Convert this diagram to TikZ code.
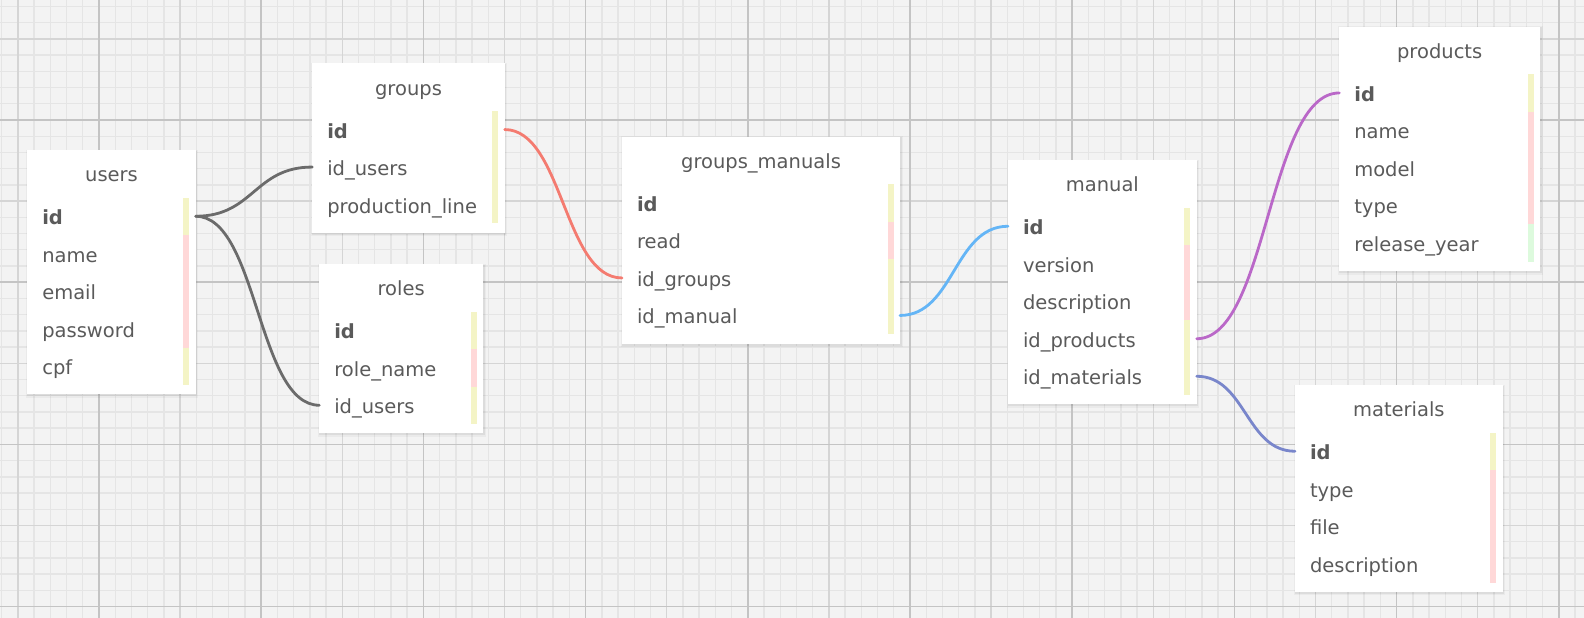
\documentclass[tikz,border=0pt]{standalone}
\usepackage{fontspec}
\setmainfont{DejaVu Sans}
\definecolor{bgc}{HTML}{F3F3F3}
\definecolor{gminc}{HTML}{E5E5E5}
\definecolor{gmedc}{HTML}{D5D5D5}
\definecolor{gmajc}{HTML}{C4C4C4}
\definecolor{txtc}{HTML}{5A5A5A}
\definecolor{barY}{HTML}{F4F4C6}
\definecolor{barP}{HTML}{FFD8D8}
\definecolor{barG}{HTML}{DDFADD}
\definecolor{cGray}{HTML}{6B6B6B}
\definecolor{cRed}{HTML}{F47B70}
\definecolor{cBlue}{HTML}{64B5F6}
\definecolor{cPurple}{HTML}{BA68C8}
\definecolor{cIndigo}{HTML}{7986CB}
\tikzset{
  gminor/.style={draw=gminc, line width=1.4pt},
  gmedium/.style={draw=gmedc, line width=1.5pt},
  gmajor/.style={draw=gmajc, line width=1.6pt},
  tablebox/.style={fill=white, draw=none, inner sep=0pt, outer sep=0pt, rectangle},
  titletext/.style={font=\fontsize{19.5}{23}\selectfont, text=txtc, inner sep=0pt},
  rowtext/.style={font=\fontsize{19.5}{23}\selectfont, text=txtc, inner xsep=15pt, inner ysep=0pt,
    outer sep=0pt, text height=20pt, text depth=3pt, minimum height=37.5pt, align=left},
  conn/.style={line width=2.8pt, line cap=round}
}
\newcommand{\ertable}[6]{%
  \pgfmathsetmacro{\erW}{#4-#2}%
  \pgfmathsetmacro{\erH}{56.8+37.5*#5}%
  \fill[black, opacity=0.035] (#2-1.5,#3-0.5) rectangle (#4+2.5,#3+\erH+3.5);
  \fill[black, opacity=0.06] (#2-0.5,#3+0.5) rectangle (#4+1.5,#3+\erH+2);
  \node[tablebox, minimum width=\erW pt, minimum height=\erH pt, anchor=north west] (#1) at (#2,#3) {};
  \node[titletext, anchor=base] (#1-title) at ({(#2+#4)/2},#3+31.7) {#6};
}
\newcommand{\errow}[8]{%
  \pgfmathsetmacro{\erYc}{#5+47.5+37.5*#6+18.75}%
  \pgfmathsetmacro{\erTW}{#4-#3-30}%
  \fill[#8] (#4-12.4,\erYc-18.75) rectangle (#4-6.4,\erYc+18.75);
  \node[rowtext, text width=\erTW pt, anchor=west] (#1-#2) at (#3,\erYc) {#7};
}
\begin{document}
\begin{tikzpicture}[x=1pt,y=-1pt]
\useasboundingbox (0,0) rectangle (1584,618);
\fill[bgc] (0,0) rectangle (1584,618);
\begin{scope}
\clip (0,0) rectangle (1584,618);
\foreach \i in {0,...,97} \draw[gminor] ({1.68+16.22*\i},0) -- ++(0,618);
\foreach \i in {0,...,38} \draw[gminor] (0,{6.46+16.22*\i}) -- ++(1584,0);
\foreach \i in {0,...,9} \draw[gmedium] ({17.9+162.2*\i},0) -- ++(0,618);
\foreach \i in {0,...,3} \draw[gmedium] (0,{38.9+162.2*\i}) -- ++(1584,0);
\foreach \i in {0,...,9} \draw[gmajor] ({99+162.2*\i},0) -- ++(0,618);
\foreach \i in {0,...,3} \draw[gmajor] (0,{120+162.2*\i}) -- ++(1584,0);
\end{scope}

% users
\ertable{users}{27.3}{150}{195.7}{5}{users}
\errow{users}{id}{27.3}{195.7}{150}{0}{\textbf{id}}{barY}
\errow{users}{name}{27.3}{195.7}{150}{1}{name}{barP}
\errow{users}{email}{27.3}{195.7}{150}{2}{email}{barP}
\errow{users}{password}{27.3}{195.7}{150}{3}{password}{barP}
\errow{users}{cpf}{27.3}{195.7}{150}{4}{cpf}{barY}

% groups
\ertable{groups}{312.3}{63.3}{504.7}{3}{groups}
\errow{groups}{id}{312.3}{504.7}{63.3}{0}{\textbf{id}}{barY}
\errow{groups}{idusers}{312.3}{504.7}{63.3}{1}{id\_users}{barY}
\errow{groups}{pline}{312.3}{504.7}{63.3}{2}{production\_line}{barY}

% roles
\ertable{roles}{319.3}{264}{483}{3}{roles}
\errow{roles}{id}{319.3}{483}{264}{0}{\textbf{id}}{barY}
\errow{roles}{rolename}{319.3}{483}{264}{1}{role\_name}{barP}
\errow{roles}{idusers}{319.3}{483}{264}{2}{id\_users}{barY}

% groups_manuals
\ertable{gm}{622}{136.7}{900}{4}{groups\_manuals}
\errow{gm}{id}{622}{900}{136.7}{0}{\textbf{id}}{barY}
\errow{gm}{read}{622}{900}{136.7}{1}{read}{barP}
\errow{gm}{idgroups}{622}{900}{136.7}{2}{id\_groups}{barY}
\errow{gm}{idmanual}{622}{900}{136.7}{3}{id\_manual}{barY}

% manual
\ertable{manual}{1008}{160}{1196.7}{5}{manual}
\errow{manual}{id}{1008}{1196.7}{160}{0}{\textbf{id}}{barY}
\errow{manual}{version}{1008}{1196.7}{160}{1}{version}{barP}
\errow{manual}{description}{1008}{1196.7}{160}{2}{description}{barP}
\errow{manual}{idproducts}{1008}{1196.7}{160}{3}{id\_products}{barY}
\errow{manual}{idmaterials}{1008}{1196.7}{160}{4}{id\_materials}{barY}

% products
\ertable{products}{1339.3}{26.7}{1540}{5}{products}
\errow{products}{id}{1339.3}{1540}{26.7}{0}{\textbf{id}}{barY}
\errow{products}{name}{1339.3}{1540}{26.7}{1}{name}{barP}
\errow{products}{model}{1339.3}{1540}{26.7}{2}{model}{barP}
\errow{products}{type}{1339.3}{1540}{26.7}{3}{type}{barP}
\errow{products}{ryear}{1339.3}{1540}{26.7}{4}{release\_year}{barG}

% materials
\ertable{materials}{1295}{385}{1502.7}{4}{materials}
\errow{materials}{id}{1295}{1502.7}{385}{0}{\textbf{id}}{barY}
\errow{materials}{type}{1295}{1502.7}{385}{1}{type}{barP}
\errow{materials}{file}{1295}{1502.7}{385}{2}{file}{barP}
\errow{materials}{description}{1295}{1502.7}{385}{3}{description}{barP}

% connectors
\draw[conn, cGray] (users-id.east) .. controls +(58,0) and +(-58,0) .. (groups-idusers.west);
\draw[conn, cGray] (users-id.east) .. controls +(62,0) and +(-62,0) .. (roles-idusers.west);
\draw[conn, cRed] (groups-id.east) .. controls +(58,0) and +(-58,0) .. (gm-idgroups.west);
\draw[conn, cBlue] (gm-idmanual.east) .. controls +(54,0) and +(-54,0) .. (manual-id.west);
\draw[conn, cPurple] (manual-idproducts.east) .. controls +(71,0) and +(-71,0) .. (products-id.west);
\draw[conn, cIndigo] (manual-idmaterials.east) .. controls +(49,0) and +(-49,0) .. (materials-id.west);
\end{tikzpicture}
\end{document}
